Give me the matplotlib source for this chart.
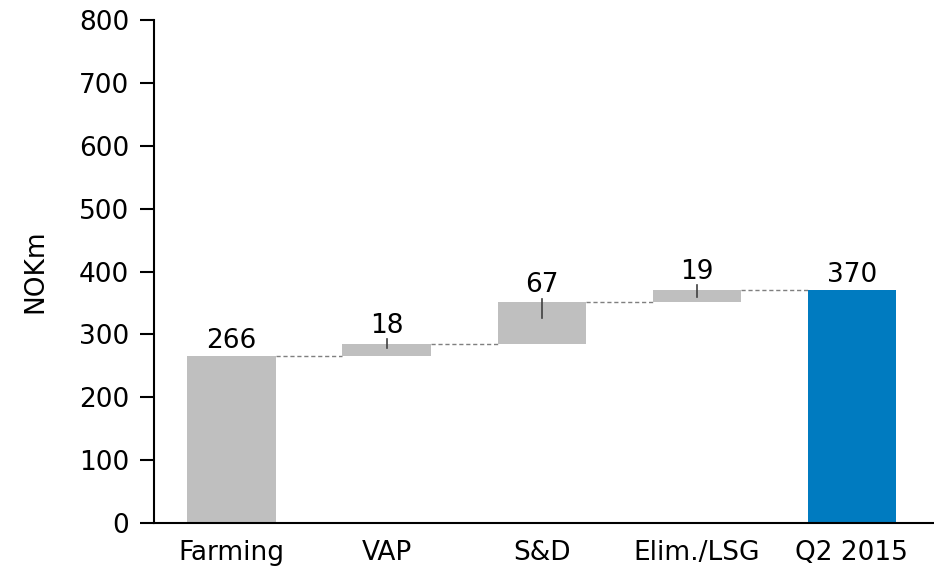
import matplotlib
matplotlib.use("Agg")
import matplotlib.pyplot as plt
import numpy as np

# EBIT bridge, NOKm
categories = ["Farming", "VAP", "S&D", "Elim./LSG", "Q2 2015"]
values = [266, 18, 67, 19, 370]
kinds = ["total", "step", "step", "step", "total"]
# small marker lines inside the step bars (below, above the bar top)
marker_below = [0, 6, 25, 11, 0]
marker_above = [0, 8, 6, 8, 0]

GREY = "#bfbfbf"
BLUE = "#007bc0"
FS = 19

plt.rcParams["font.family"] = ["DejaVu Sans"]

fig = plt.figure(figsize=(9.34, 5.81), dpi=100)
ax = fig.add_axes([0.165, 0.0998, 0.835, 0.8658])

x = np.arange(len(categories))
width = 0.57

bottoms, tops = [], []
running = 0
for val, kind in zip(values, kinds):
    if kind == "total":
        bottoms.append(0)
        tops.append(val)
        running = val
    else:
        bottoms.append(running)
        running += val
        tops.append(running)

colors = [GREY] * (len(categories) - 1) + [BLUE]
heights = [t - b for t, b in zip(tops, bottoms)]
ax.bar(x, heights, bottom=bottoms, width=width, color=colors, zorder=2)

# dashed connectors between consecutive bars
for i in range(len(categories) - 1):
    ax.plot([x[i] + width / 2, x[i + 1] - width / 2], [tops[i], tops[i]],
            color="#7f7f7f", linestyle=(0, (3, 2)), linewidth=1, zorder=1)

for i, (val, top) in enumerate(zip(values, tops)):
    if kinds[i] == "step":
        ax.plot([x[i], x[i]], [top - marker_below[i], top + marker_above[i]],
                color="#404040", linewidth=1.2, zorder=3)
        ytext = top + marker_above[i] + 1
    else:
        ytext = top + 3
    ax.text(x[i], ytext, str(val), ha="center", va="bottom", fontsize=FS,
            color="black")

ax.set_xlim(-0.5, 4.53)
ax.set_ylim(0, 800)
ax.set_yticks(np.arange(0, 801, 100))
ax.set_xticks(x)
ax.set_xticklabels(categories, fontsize=FS)
ax.tick_params(axis="y", labelsize=FS, length=10, width=1.5, direction="out", pad=8)
ax.tick_params(axis="x", length=0, pad=12)
ax.set_ylabel("NOKm", fontsize=FS, labelpad=22)

for side in ("top", "right"):
    ax.spines[side].set_visible(False)
for side in ("left", "bottom"):
    ax.spines[side].set_linewidth(1.5)

fig.savefig("out.png", dpi=100)
